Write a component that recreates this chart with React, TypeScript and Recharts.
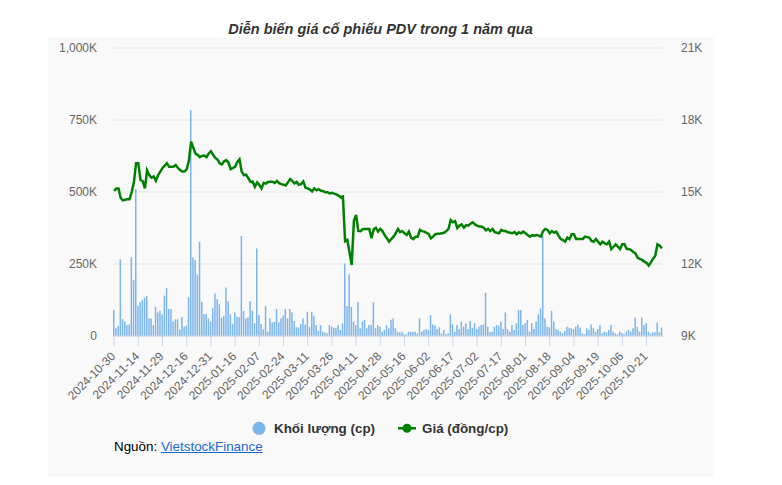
import { ComposedChart, Bar, Line, XAxis, YAxis, CartesianGrid } from "recharts";

// Trading days (HOSE calendar, holidays already removed), by month.
const MONTH_DAYS: Array<[string, number[]]> = [
  ["2024-10", [30, 31]],
  ["2024-11", [1, 4, 5, 6, 7, 8, 11, 12, 13, 14, 15, 18, 19, 20, 21, 22, 25, 26, 27, 28, 29]],
  ["2024-12", [2, 3, 4, 5, 6, 9, 10, 11, 12, 13, 16, 17, 18, 19, 20, 23, 24, 25, 26, 27, 30, 31]],
  ["2025-01", [2, 3, 6, 7, 8, 9, 10, 13, 14, 15, 16, 17, 20, 21, 22, 23, 24]],
  ["2025-02", [3, 4, 5, 6, 7, 10, 11, 12, 13, 14, 17, 18, 19, 20, 21, 24, 25, 26, 27, 28]],
  ["2025-03", [3, 4, 5, 6, 7, 10, 11, 12, 13, 14, 17, 18, 19, 20, 21, 24, 25, 26, 27, 28, 31]],
  ["2025-04", [1, 2, 3, 4, 8, 9, 10, 11, 14, 15, 16, 17, 18, 21, 22, 23, 24, 25, 28, 29]],
  ["2025-05", [5, 6, 7, 8, 9, 12, 13, 14, 15, 16, 19, 20, 21, 22, 23, 26, 27, 28, 29, 30]],
  ["2025-06", [2, 3, 4, 5, 6, 9, 10, 11, 12, 13, 16, 17, 18, 19, 20, 23, 24, 25, 26, 27, 30]],
  ["2025-07", [1, 2, 3, 4, 7, 8, 9, 10, 11, 14, 15, 16, 17, 18, 21, 22, 23, 24, 25, 28, 29, 30, 31]],
  ["2025-08", [1, 4, 5, 6, 7, 8, 11, 12, 13, 14, 15, 18, 19, 20, 21, 22, 25, 26, 27, 28, 29]],
  ["2025-09", [3, 4, 5, 8, 9, 10, 11, 12, 15, 16, 17, 18, 19, 22, 23, 24, 25, 26, 29, 30]],
  ["2025-10", [1, 2, 3, 6, 7, 8, 9, 10, 13, 14, 15, 16, 17, 20, 21, 22, 23, 24, 27, 28, 29, 30]],
];

// Khối lượng, nghìn cp
const VOLUME_K = [
  90, 27, 36, 266, 58, 50, 38, 40, 274, 194,
  510, 104, 117, 125, 133, 139, 61, 61, 38, 102,
  82, 88, 75, 140, 167, 94, 94, 50, 58, 58,
  23, 66, 32, 36, 134, 785, 273, 264, 214, 327,
  119, 76, 76, 61, 50, 96, 148, 128, 110, 64,
  70, 168, 121, 75, 42, 82, 67, 66, 347, 87,
  61, 64, 121, 88, 44, 304, 73, 42, 24, 104,
  15, 61, 47, 50, 94, 47, 61, 70, 94, 61,
  94, 82, 52, 31, 30, 42, 61, 40, 84, 32,
  84, 70, 38, 18, 38, 15, 12, 9, 38, 32,
  29, 29, 38, 21, 44, 252, 104, 214, 101, 50,
  38, 119, 27, 50, 56, 27, 38, 38, 117, 27,
  38, 32, 15, 21, 38, 27, 56, 61, 27, 15,
  12, 15, 6, 6, 15, 15, 13, 15, 9, 61,
  15, 21, 24, 21, 73, 40, 36, 24, 30, 9,
  21, 6, 9, 75, 40, 15, 38, 24, 50, 32,
  44, 24, 52, 29, 44, 24, 32, 38, 40, 150,
  32, 13, 15, 32, 38, 36, 50, 24, 82, 24,
  15, 38, 21, 44, 90, 90, 38, 44, 56, 15,
  44, 24, 50, 75, 96, 347, 61, 32, 30, 87,
  50, 24, 21, 15, 9, 17, 32, 29, 27, 24,
  32, 40, 29, 9, 6, 27, 21, 40, 27, 15,
  24, 38, 9, 15, 13, 21, 38, 15, 9, 6,
  15, 10, 6, 15, 21, 15, 27, 64, 32, 15,
  64, 38, 44, 15, 9, 13, 13, 47, 13, 29,
];

// Giá, nghìn đồng/cp
const PRICE_K = [
  15.05, 15.15, 15.15, 14.75, 14.65, 14.68, 14.7, 14.7, 15.0, 15.4,
  16.2, 16.2, 15.5, 15.45, 15.15, 15.9, 15.7, 15.6, 15.65, 15.47,
  15.7, 15.85, 16.0, 16.1, 16.2, 16.05, 16.05, 16.05, 16.12, 16.0,
  15.92, 15.85, 15.85, 15.95, 16.3, 17.1, 16.85, 16.6, 16.55, 16.45,
  16.5, 16.52, 16.45, 16.6, 16.7, 16.55, 16.42, 16.35, 16.2, 16.15,
  16.28, 16.33, 16.22, 15.95, 16.0, 16.05, 16.25, 16.36, 15.85, 15.7,
  15.72, 15.58, 15.42, 15.43, 15.22, 15.4, 15.3, 15.15, 15.38, 15.35,
  15.42, 15.43, 15.43, 15.38, 15.46, 15.37, 15.33, 15.3, 15.27, 15.4,
  15.54, 15.46, 15.36, 15.42, 15.3, 15.33, 15.44, 15.18, 15.15, 15.1,
  15.02, 15.15, 15.07, 15.12, 15.05, 15.04, 14.99, 14.99, 14.94, 14.97,
  14.93, 14.9, 14.85, 14.78, 14.81, 12.95, 13.0, 12.5, 11.96, 13.8,
  14.04, 13.38, 13.37, 13.45, 13.46, 13.46, 13.46, 13.07, 13.45, 13.51,
  13.35, 13.46, 13.37, 13.2, 13.07, 12.93, 13.04, 13.14, 13.28, 13.46,
  13.33, 13.37, 13.28, 13.21, 13.35, 13.1, 13.04, 13.14, 13.14, 13.42,
  13.37, 13.35, 13.3, 13.24, 13.07, 13.14, 13.24, 13.26, 13.26, 13.28,
  13.3, 13.37, 13.46, 13.83, 13.74, 13.79, 13.5, 13.6, 13.65, 13.51,
  13.62, 13.6, 13.68, 13.74, 13.65, 13.6, 13.56, 13.56, 13.51, 13.4,
  13.46, 13.37, 13.46, 13.33, 13.3, 13.28, 13.42, 13.37, 13.37, 13.32,
  13.3, 13.28, 13.33, 13.24, 13.32, 13.28, 13.35, 13.28, 13.21, 13.14,
  13.2, 13.18, 13.21, 13.18, 13.14, 13.37, 13.46, 13.42, 13.28, 13.37,
  13.3, 13.35, 13.18, 13.04, 13.0, 12.93, 13.1, 13.04, 13.24, 13.24,
  13.04, 13.04, 13.04, 13.04, 13.14, 13.12, 13.1, 12.96, 12.93, 13.04,
  12.93, 12.82, 12.93, 12.86, 12.82, 12.93, 12.62, 12.72, 12.82, 12.72,
  12.62, 12.82, 12.82, 12.62, 12.62, 12.58, 12.5, 12.44, 12.26, 12.21,
  12.17, 12.1, 12.05, 11.93, 12.07, 12.22, 12.35, 12.82, 12.76, 12.65,
];

const X_TICKS = [
  "2024-10-30", "2024-11-14", "2024-11-29", "2024-12-16", "2024-12-31",
  "2025-01-16", "2025-02-07", "2025-02-24", "2025-03-11", "2025-03-26",
  "2025-04-11", "2025-04-28", "2025-05-16", "2025-06-02", "2025-06-17",
  "2025-07-02", "2025-07-17", "2025-08-01", "2025-08-18", "2025-09-04",
  "2025-09-19", "2025-10-06", "2025-10-21",
];
const VOLUME_TICKS = [0, 250000, 500000, 750000, 1000000];
const PRICE_TICKS = [9000, 12000, 15000, 18000, 21000];

const dates = MONTH_DAYS.flatMap(([m, days]) =>
  days.map((d) => `${m}-${String(d).padStart(2, "0")}`)
);

const data = dates.map((date, i) => ({
  date,
  volume: VOLUME_K[i] * 1000,
  price: PRICE_K[i] * 1000,
}));

const FONT = "Arial, 'Liberation Sans', Helvetica, sans-serif";
const AXIS_TEXT = { fill: "#666666", fontSize: 12, fontFamily: FONT };

const fmtVolume = (v: number) => (v === 0 ? "0" : `${(v / 1000).toLocaleString("en-US")}K`);
const fmtPrice = (v: number) => `${v / 1000}K`;

function DateTick({ x, y, payload }: any) {
  return (
    <g transform={`translate(${x + 2},${y + 11})`}>
      <text x={0} y={0} textAnchor="end" transform="rotate(-45)" {...AXIS_TEXT}>
        {payload.value}
      </text>
    </g>
  );
}

export default function App() {
  return (
    <div
      style={{
        position: "absolute",
        left: 0,
        top: 0,
        width: 782,
        height: 485,
        background: "#ffffff",
        fontFamily: FONT,
        overflow: "hidden",
      }}
    >
      <div
        style={{
          position: "absolute",
          left: 48,
          top: 37,
          width: 666,
          height: 440,
          background: "#f9f9f9",
        }}
      />
      <div
        style={{
          position: "absolute",
          left: 0,
          top: 21,
          width: 761,
          textAlign: "center",
          fontSize: 14.5,
          fontWeight: 700,
          fontStyle: "italic",
          color: "#333333",
        }}
      >
        Diễn biến giá cổ phiếu PDV trong 1 năm qua
      </div>

      <div style={{ position: "absolute", left: 0, top: 0 }}>
        <ComposedChart
          width={782}
          height={485}
          data={data}
          margin={{ top: 48, right: 59, bottom: 79, left: 53 }}
        >
          <CartesianGrid yAxisId="vol" vertical={false} stroke="#e6e6e6" />
          <XAxis
            dataKey="date"
            ticks={X_TICKS}
            interval={0}
            height={70}
            tick={<DateTick />}
            tickSize={10}
            tickMargin={0}
            stroke="#ccd6eb"
            tickLine={{ stroke: "#ccd6eb" }}
            axisLine={{ stroke: "#ccd6eb" }}
          />
          <YAxis
            yAxisId="vol"
            width={60}
            domain={[0, 1000000]}
            ticks={VOLUME_TICKS}
            tickFormatter={fmtVolume}
            tick={AXIS_TEXT}
            tickLine={false}
            axisLine={false}
            tickSize={0}
            tickMargin={16}
          />
          <YAxis
            yAxisId="price"
            orientation="right"
            width={60}
            domain={[9000, 21000]}
            ticks={PRICE_TICKS}
            tickFormatter={fmtPrice}
            tick={{ ...AXIS_TEXT, textAnchor: "start" }}
            tickLine={false}
            axisLine={false}
            tickSize={0}
            tickMargin={18}
          />
          <Bar
            yAxisId="vol"
            dataKey="volume"
            name="Khối lượng (cp)"
            fill="#7cb5ec"
            barSize={1.5}
            isAnimationActive={false}
          />
          <Line
            yAxisId="price"
            dataKey="price"
            name="Giá (đồng/cp)"
            type="linear"
            stroke="#008000"
            strokeWidth={2.5}
            dot={false}
            isAnimationActive={false}
          />
        </ComposedChart>
      </div>

      {/* legend */}
      <svg
        width={782}
        height={30}
        style={{ position: "absolute", left: 0, top: 414 }}
      >
        <circle cx={259} cy={14.3} r={6.5} fill="#7cb5ec" />
        <text x={274} y={19} fontSize={13.4} fontWeight={700} fill="#333333" fontFamily={FONT}>
          Khối lượng (cp)
        </text>
        <line x1={398} y1={14.3} x2={416} y2={14.3} stroke="#008000" strokeWidth={2.5} />
        <circle cx={407} cy={14.3} r={4.5} fill="#008000" />
        <text x={422} y={19} fontSize={13.4} fontWeight={700} fill="#333333" fontFamily={FONT}>
          Giá (đồng/cp)
        </text>
      </svg>

      <div
        style={{
          position: "absolute",
          left: 114,
          top: 439,
          fontSize: 13.4,
          color: "#000000",
        }}
      >
        Nguồn:{" "}
        <a href="#" style={{ color: "#1a6ad1", textDecoration: "underline" }}>
          VietstockFinance
        </a>
      </div>
    </div>
  );
}
